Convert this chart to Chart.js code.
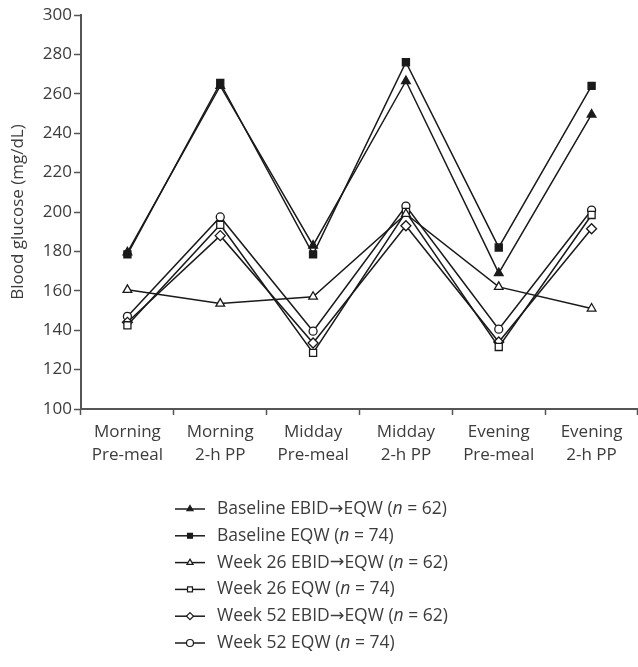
<!DOCTYPE html>
<html>
<head>
<meta charset="utf-8">
<script src="https://cdn.jsdelivr.net/npm/chart.js@4.4.0/dist/chart.umd.min.js"></script>
<style>
  html, body { margin: 0; padding: 0; background: #fff; }
  #wrap { width: 638px; height: 667px; }
</style>
</head>
<body>
<div id="wrap"><canvas id="chart" width="638" height="667"></canvas></div>
<script>
// Kategorijas (x ass)
var categories = [
    ['Morning', 'Pre-meal'],
    ['Morning', '2-h PP'],
    ['Midday', 'Pre-meal'],
    ['Midday', '2-h PP'],
    ['Evening', 'Pre-meal'],
    ['Evening', '2-h PP']
];

// Sēriju vērtības (mg/dL), nolasītas no attēla
var baselineEbid = [179.5, 264, 183, 266.5, 169, 249.5];
var baselineEqw  = [178.5, 265.5, 178.5, 276, 182, 264];
var week26Ebid   = [160.5, 153.5, 157, 199, 162, 151];
var week26Eqw    = [142.5, 193.5, 128.5, 200, 131.5, 198.5];
var week52Ebid   = [144, 188, 133.5, 193, 134, 191.5];
var week52Eqw    = [147, 197.5, 139.5, 203, 140.5, 201];

// Leģendas teksti un n
var seriesLabels = ['Baseline EBID\u2192EQW', 'Baseline EQW', 'Week 26 EBID\u2192EQW', 'Week 26 EQW', 'Week 52 EBID\u2192EQW', 'Week 52 EQW'];
var seriesN = [62, 74, 62, 74, 62, 74];

// Y ass ieskaites
var yMin = 100;
var yMax = 300;
var yStep = 20;

var FONT = '"Open Sans", "Noto Sans", sans-serif';
var TEXT = '#3c3c3c';
var AXIS = '#555555';
var LINE = '#1a1a1a';

var styles = [
    { pointStyle: 'triangle', fill: LINE, r: 5 },
    { pointStyle: 'rect', fill: LINE, r: 5 },
    { pointStyle: 'triangle', fill: '#ffffff', r: 5 },
    { pointStyle: 'rect', fill: '#ffffff', r: 5 },
    { pointStyle: 'rectRot', fill: '#ffffff', r: 5 },
    { pointStyle: 'circle', fill: '#ffffff', r: 4 }
];

var allValues = [baselineEbid, baselineEqw, week26Ebid, week26Eqw, week52Ebid, week52Eqw];

var datasets = allValues.map(function (vals, i) {
    return {
        label: seriesLabels[i],
        data: vals,
        borderColor: LINE,
        borderWidth: 1.5,
        backgroundColor: styles[i].fill,
        pointStyle: styles[i].pointStyle,
        pointRadius: styles[i].r,
        pointBorderColor: LINE,
        pointBackgroundColor: styles[i].fill,
        pointBorderWidth: 1.3,
        tension: 0,
        fill: false
    };
});

// Leģenda zem grafika, katra sērija savā rindā
var legendPlugin = {
    id: 'rowLegend',
    afterDraw: function (chart) {
        var ctx = chart.ctx;
        var x0 = 175, x1 = 205, tx = 217, y0 = 509, dy = 26.8;
        var fs = '17.5px ';
        ctx.save();
        chart.data.datasets.forEach(function (ds, i) {
            var y = y0 + i * dy;
            ctx.strokeStyle = LINE;
            ctx.lineWidth = 1.5;
            ctx.beginPath();
            ctx.moveTo(x0, y);
            ctx.lineTo(x1, y);
            ctx.stroke();
            ctx.fillStyle = styles[i].fill;
            ctx.strokeStyle = LINE;
            ctx.lineWidth = 1.2;
            Chart.helpers.drawPoint(ctx, { pointStyle: styles[i].pointStyle, radius: 3.5, rotation: 0, borderWidth: 1.2 }, (x0 + x1) / 2, y);

            ctx.fillStyle = TEXT;
            ctx.textBaseline = 'middle';
            ctx.textAlign = 'left';
            // Bultiņu zīmē ar DejaVu, jo Open Sans tās nav
            var name = seriesLabels[i].split('\u2192');
            var parts = [{ t: name[0], f: fs + FONT }];
            if (name.length > 1) {
                parts.push({ t: '\u2192', f: fs + '"DejaVu Sans", sans-serif' });
                parts.push({ t: name[1], f: fs + FONT });
            }
            parts.push({ t: ' (', f: fs + FONT });
            parts.push({ t: 'n', f: 'italic ' + fs + FONT });
            parts.push({ t: ' = ' + seriesN[i] + ')', f: fs + FONT });
            var x = tx;
            parts.forEach(function (p) {
                ctx.font = p.f;
                ctx.fillText(p.t, x, y);
                x += ctx.measureText(p.t).width;
            });
        });
        ctx.restore();
    }
};

var ctx = document.getElementById('chart').getContext('2d');
var chart = new Chart(ctx, {
    type: 'line',
    data: { labels: categories, datasets: datasets },
    options: {
        responsive: false,
        maintainAspectRatio: false,
        animation: false,
        layout: { autoPadding: false, padding: { left: 0, right: 0, top: 15, bottom: 188 } },
        plugins: {
            legend: { display: false },
            tooltip: { enabled: false }
        },
        scales: {
            x: {
                type: 'category',
                offset: true,
                afterFit: function (s) { s.height = 70; s.paddingRight = 0; s.paddingLeft = 0; },
                border: { display: true, color: AXIS, width: 2 },
                grid: { display: true, offset: true, drawOnChartArea: false, drawTicks: true, tickLength: 6, color: AXIS, tickWidth: 1.5 },
                ticks: { color: TEXT, padding: 6, maxRotation: 0, autoSkip: false, font: { family: FONT, size: 17, lineHeight: 1.35 } }
            },
            y: {
                min: yMin,
                max: yMax,
                afterFit: function (s) { s.width = 81; },
                border: { display: true, color: AXIS, width: 2 },
                grid: { display: true, drawOnChartArea: false, drawTicks: true, tickLength: 7, color: AXIS, tickWidth: 1.5 },
                ticks: { stepSize: yStep, color: TEXT, padding: 2, font: { family: FONT, size: 17 } },
                title: { display: true, text: 'Blood glucose (mg/dL)', color: TEXT, padding: { top: 8, bottom: 0 }, font: { family: FONT, size: 17 } }
            }
        }
    },
    plugins: [legendPlugin]
});
</script>
</body>
</html>
